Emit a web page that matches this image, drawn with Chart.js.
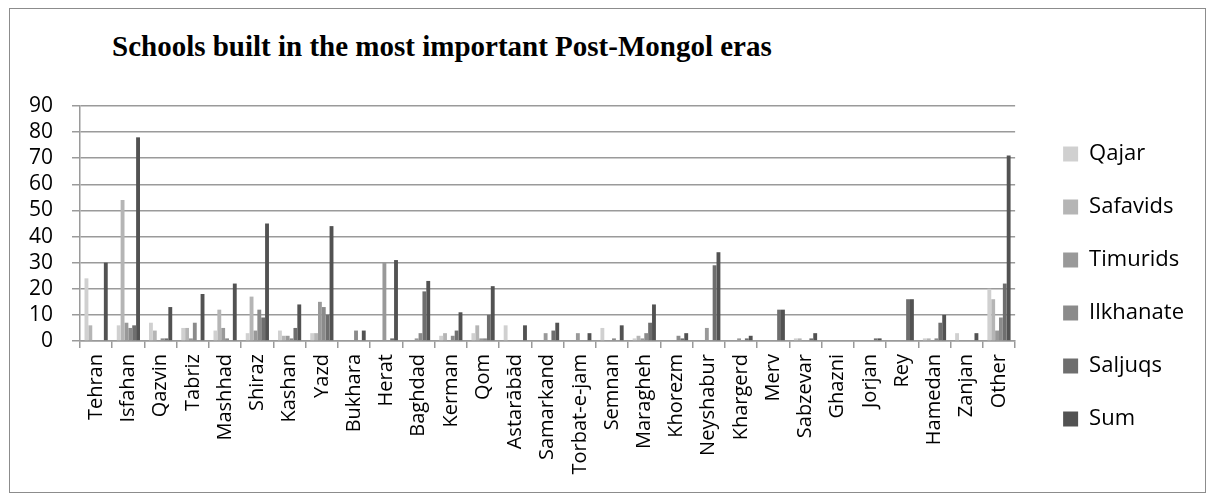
<!DOCTYPE html>
<html>
<head>
<meta charset="utf-8">
<script src="https://cdn.jsdelivr.net/npm/chart.js@4/dist/chart.umd.min.js"></script>
<style>
  body { margin: 0; background: #fff; }
  #wrap { position: relative; width: 1214px; height: 500px; }
  #frame { position: absolute; left: 9px; top: 8px; width: 1195px; height: 483px; border: 1px solid #8c8c8c; }
  #title { position: absolute; left: 112px; top: 32px; font: bold 29px "Liberation Serif", serif; line-height: 29px; color: #000; white-space: nowrap; }
  canvas { position: absolute; left: 0; top: 0; }
</style>
</head>
<body>
<div id="wrap">
  <div id="frame"></div>
  <div id="title">Schools built in the most important Post-Mongol eras</div>
  <canvas id="chart" width="1214" height="500"></canvas>
</div>
<script>
const cities = ["Tehran", "Isfahan", "Qazvin", "Tabriz", "Mashhad", "Shiraz", "Kashan", "Yazd", "Bukhara", "Herat",
  "Baghdad", "Kerman", "Qom", "Astarābād", "Samarkand", "Torbat-e-jam", "Semnan", "Maragheh", "Khorezm", "Neyshabur",
  "Khargerd", "Merv", "Sabzevar", "Ghazni", "Jorjan", "Rey", "Hamedan", "Zanjan", "Other"];

const qajar     = [24, 6, 7, 5, 4, 3, 4, 3, 0, 0, 0, 2, 3, 6, 0, 0, 5, 1, 0, 0, 0, 0, 1, 0, 0, 0, 1, 3, 20];
const safavids  = [6, 54, 4, 5, 12, 17, 2, 3, 0, 0, 0, 3, 6, 0, 0, 0, 0, 2, 0, 0, 0, 0, 1, 0, 0, 0, 1, 0, 16];
const timurids  = [0, 7, 0, 1, 5, 4, 2, 15, 0, 30, 1, 0, 1, 0, 3, 3, 0, 1, 0, 5, 1, 0, 0, 0, 0, 0, 0, 0, 4];
const ilkhanate = [0, 5, 1, 7, 1, 12, 1, 13, 4, 0, 3, 2, 1, 0, 0, 0, 1, 3, 2, 0, 0, 0, 0, 0, 0, 0, 1, 0, 9];
const saljuqs   = [0, 6, 1, 0, 0, 9, 5, 10, 0, 1, 19, 4, 10, 0, 4, 0, 0, 7, 1, 29, 1, 12, 1, 0, 1, 16, 7, 0, 22];
const sum       = [30, 78, 13, 18, 22, 45, 14, 44, 4, 31, 23, 11, 21, 6, 7, 3, 6, 14, 3, 34, 2, 12, 3, 0, 1, 16, 10, 3, 71];

const yTicks = [0, 10, 20, 30, 40, 50, 60, 70, 80, 90];

const gridColor = '#9a9a9a';
const font = { family: '"Open Sans"', size: 20 };

function ds(label, data, color) {
  return { label, data, backgroundColor: color, borderWidth: 0, categoryPercentage: 0.72, barPercentage: 1 };
}

new Chart(document.getElementById('chart'), {
  type: 'bar',
  data: {
    labels: cities,
    datasets: [
      ds('Qajar', qajar, '#d0d0d0'),
      ds('Safavids', safavids, '#b5b5b5'),
      ds('Timurids', timurids, '#999999'),
      ds('Ilkhanate', ilkhanate, '#8b8b8b'),
      ds('Saljuqs', saljuqs, '#6e6e6e'),
      ds('Sum', sum, '#525252')
    ]
  },
  options: {
    responsive: false,
    animation: false,
    devicePixelRatio: 1,
    layout: { padding: { left: 0, top: 83, right: 20, bottom: 10 } },
    plugins: {
      // empty title only reserves space above the plot; the visible title is the HTML one
      title: { display: true, text: ' ', font: { size: 10, lineHeight: 1 }, padding: { top: 0, bottom: 13 } },
      tooltip: { enabled: false },
      legend: {
        position: 'right',
        labels: { font: { family: '"Open Sans"', size: 22 }, color: '#000', boxWidth: 15, boxHeight: 15, padding: 31 }
      }
    },
    scales: {
      x: {
        grid: { offset: true, drawOnChartArea: false, color: gridColor, tickLength: 7, lineWidth: 1.5 },
        border: { color: gridColor, width: 1.5 },
        ticks: { font, color: '#000', minRotation: 90, maxRotation: 90, autoSkip: false, padding: 6 },
        afterFit: s => { s.height = 149; }
      },
      y: {
        min: 0,
        max: 90,
        afterBuildTicks: s => { s.ticks = yTicks.map(v => ({ value: v })); },
        grid: { color: gridColor, tickLength: 8, lineWidth: 1.5 },
        border: { color: gridColor, width: 1.5 },
        ticks: { font: { family: '"Open Sans"', size: 21 }, color: '#000', padding: 19, autoSkip: false, stepSize: 10 },
        afterFit: s => { s.width = 80; }
      },
      gap: {
        position: 'right',
        display: true,
        grid: { display: false },
        border: { display: false },
        ticks: { display: false },
        afterFit: s => { s.width = 17; }
      }
    }
  }
});
</script>
</body>
</html>
